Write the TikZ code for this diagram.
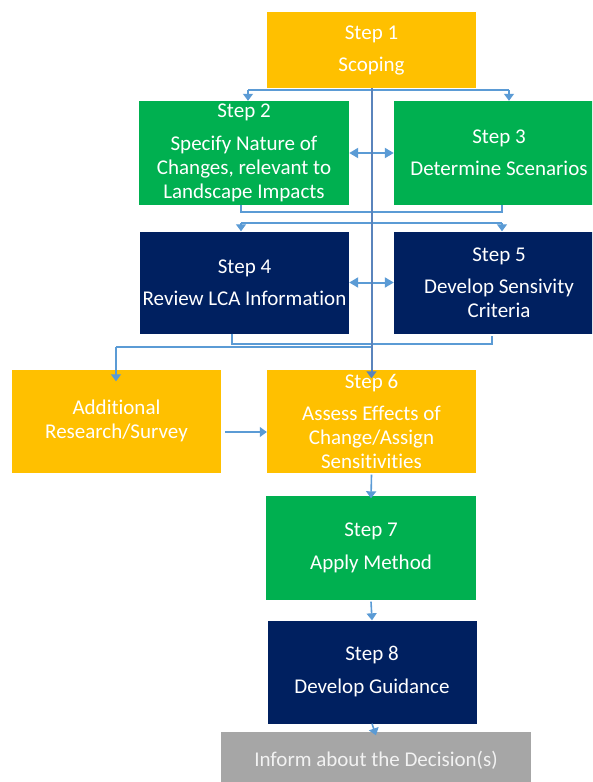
\documentclass[tikz,border=0pt]{standalone}
\usepackage{fontspec}
\setmainfont{Carlito}[RawFeature={-liga;-dlig;-clig;-calt}]
\usetikzlibrary{arrows.meta}
\definecolor{cyel}{HTML}{FFC000}
\definecolor{cgrn}{HTML}{00B050}
\definecolor{cnavy}{HTML}{002060}
\definecolor{cgray}{HTML}{A6A6A6}
\definecolor{cline}{HTML}{5B9BD5}
\definecolor{ctrunk}{HTML}{5A84BC}
\begin{document}
\begin{tikzpicture}[x=1pt,y=-1pt,
  box/.style={rectangle,inner sep=0pt,text=white,align=center,
    font=\fontsize{21}{24}\selectfont},
  ln/.style={draw=cline,line width=1.2pt},
  trunk/.style={draw=ctrunk,line width=2pt},
  tip/.style={-{Triangle[width=10pt,length=7pt]}},
  dbl/.style={draw=cline,line width=2pt,{Triangle[width=10pt,length=9pt]}-{Triangle[width=10pt,length=9pt]}}]
\path[use as bounding box,clip] (0,0) rectangle (592,782);
% boxes
\node[box,fill=cyel,minimum width=209pt,minimum height=76pt] (s1) at (371.5,50) {Step 1\\[8pt]Scoping};
\node[box,fill=cgrn,minimum width=210pt,minimum height=104pt] (s2) at (244,153) {Step 2\\[9pt]Specify Nature of\\Changes, relevant to\\Landscape Impacts};
\node[box,fill=cgrn,minimum width=210pt,minimum height=104pt] (s3) at (499,153) {Step 3\\[8pt]Determine Scenarios};
\node[box,fill=cnavy,minimum width=209pt,minimum height=102pt] (s4) at (244.5,282.5) {Step 4\\[8pt]Review LCA Information};
\node[box,fill=cnavy,minimum width=210pt,minimum height=102pt] (s5) at (499,282.5) {Step 5\\[8pt]Develop Sensivity\\Criteria};
\node[box,fill=cyel,minimum width=209pt,minimum height=103pt] (add) at (116.5,421) {Additional\\Research/Survey};
\node[box,fill=cyel,minimum width=209pt,minimum height=103pt] (s6) at (371.5,421) {Step 6\\[8pt]Assess Effects of\\Change/Assign\\Sensitivities};
\node[box,fill=cgrn,minimum width=210pt,minimum height=104pt] (s7) at (371,547.5) {Step 7\\[9pt]Apply Method};
\node[box,fill=cnavy,minimum width=209pt,minimum height=103pt] (s8) at (372,672) {Step 8\\[9pt]Develop Guidance};
\node[box,fill=cgray,text=white!95!black,minimum width=310pt,minimum height=58pt] (inf) at (376,760.5) {Inform about the Decision(s)};
% named points for buses and brackets
\coordinate (b1l) at (248,90);  \coordinate (b1r) at (509,90);
\coordinate (k1l) at (241,212); \coordinate (k1r) at (502,212);
\coordinate (b2l) at (241,223); \coordinate (b2r) at (502,223);
\coordinate (k2l) at (232,344); \coordinate (k2r) at (492,344);
\coordinate (b3l) at (116,347); \coordinate (b3r) at (372,347);
% bus from step 1
\draw[ln] (b1l) -- (b1r);
\draw[ln,tip] (b1l) -- (b1l |- s2.north);
\draw[ln,tip] (b1r) -- (b1r |- s3.north);
% step 2 <-> step 3
\draw[dbl] (s2.east) -- (s3.west);
% bracket under steps 2 and 3
\draw[ln] (k1l |- s2.south) -- (k1l) -- (k1r) -- (k1r |- s3.south);
\draw[ln] (b2l) -- (b2r);
\draw[ln,tip] (b2l) -- (b2l |- s4.north);
\draw[ln,tip] (b2r) -- (b2r |- s5.north);
% step 4 <-> step 5
\draw[dbl] (s4.east) -- (s5.west);
% bracket under steps 4 and 5
\draw[ln] (k2l |- s4.south) -- (k2l) -- (k2r) -- ([yshift=-2pt]k2r |- s5.south);
\draw[ln] (b3r) -- (b3l);
\draw[ln,tip] (b3l) -- ([yshift=-12pt]b3l |- add.north);
% trunk
\draw[trunk,tip] (s1.south) -- ([yshift=-9pt]s6.north);
% lower chain
\draw[ln,tip] ([xshift=4pt,yshift=-11pt]add.east) -- ([yshift=-11pt]s6.west);
\draw[ln,line width=1.6pt,tip] ([yshift=-2pt]s6.south) -- ([yshift=-3pt]s7.north);
\draw[ln,line width=1.6pt,tip] ([yshift=-2pt]s7.south) -- (s8.north);
\draw[ln,line width=1.6pt,tip] (s8.south) -- ([yshift=-4pt]inf.north);
\end{tikzpicture}
\end{document}
